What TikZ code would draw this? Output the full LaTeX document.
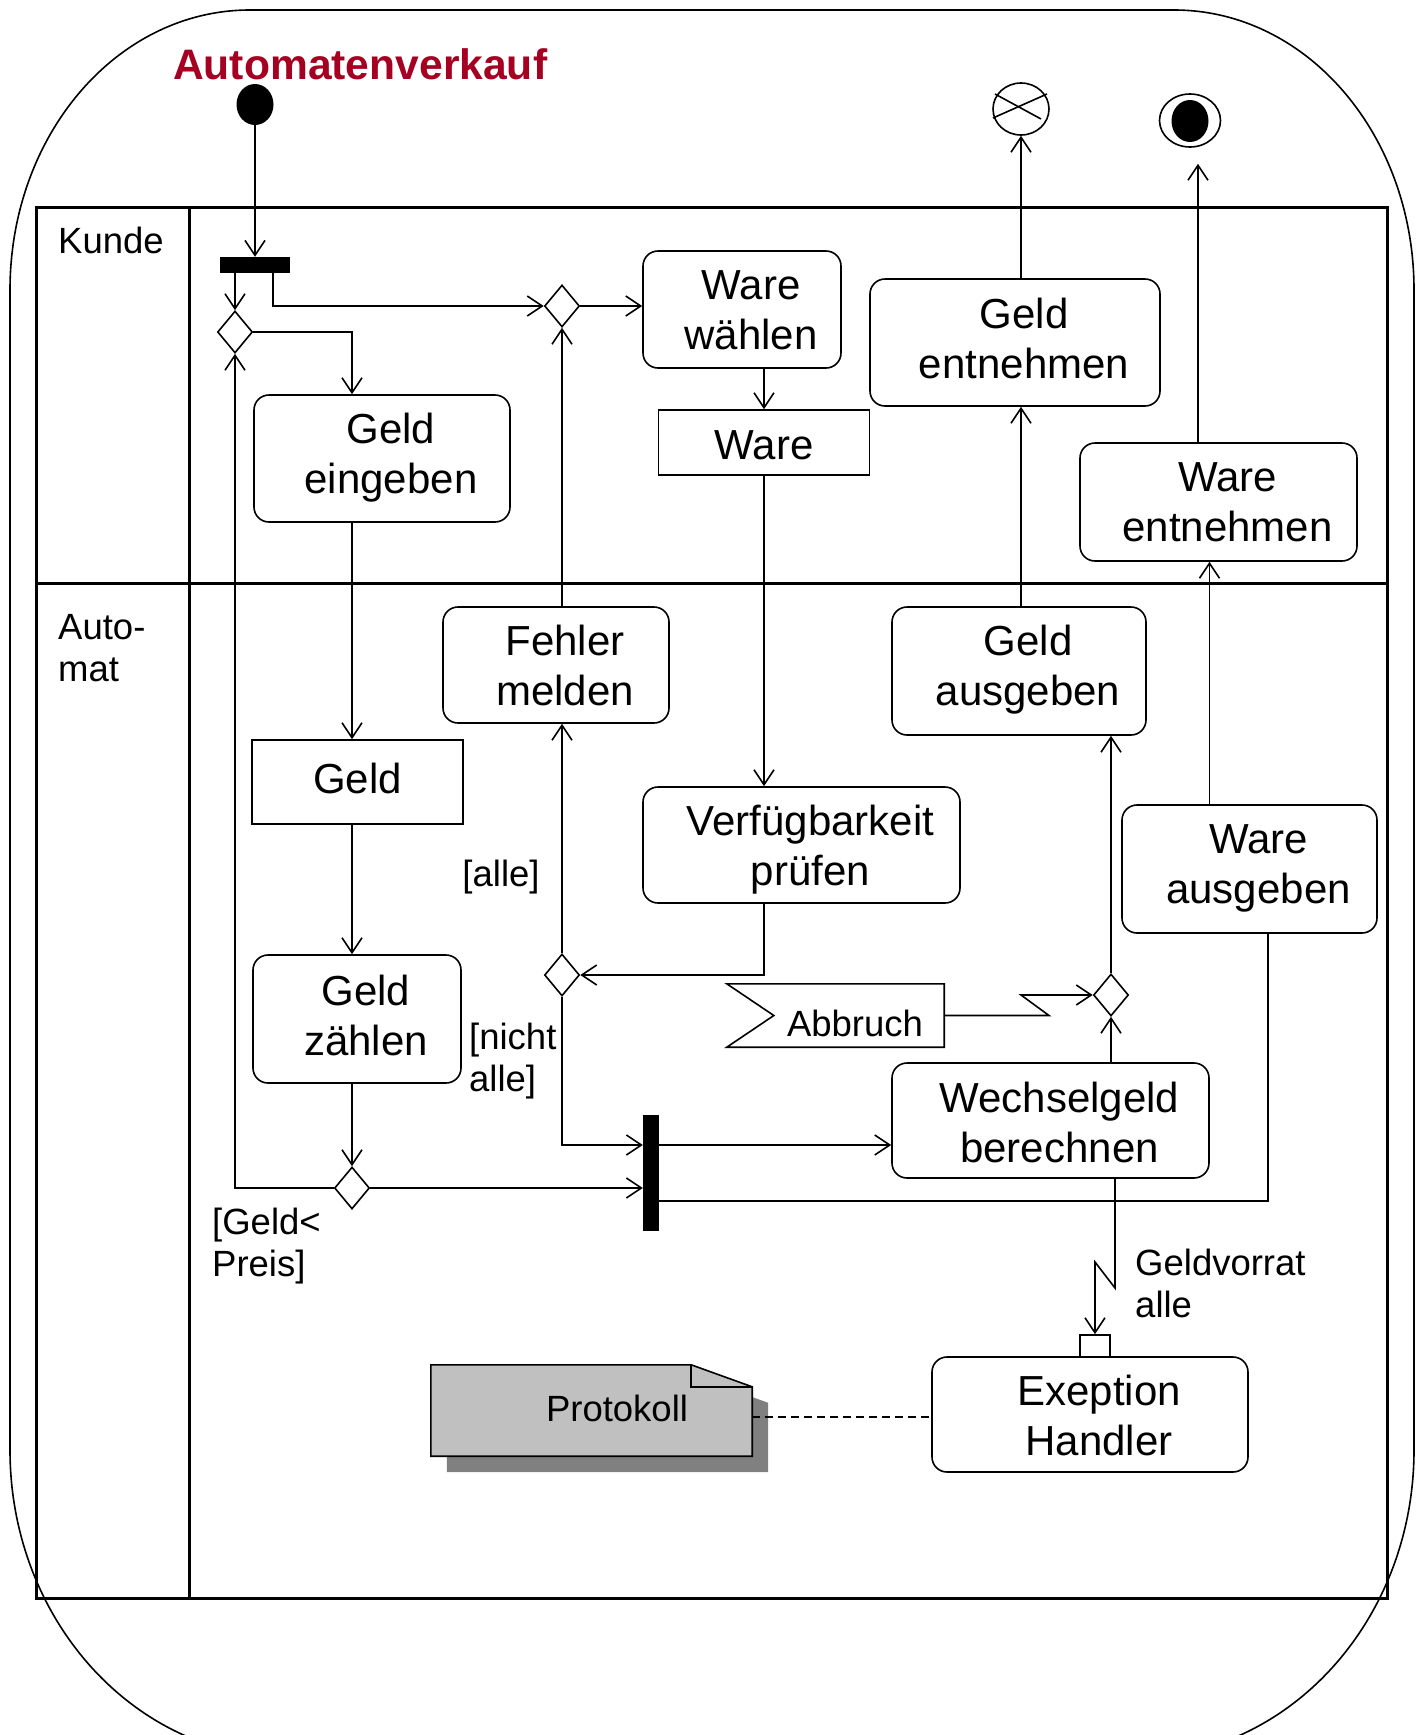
\documentclass[tikz,border=0pt]{standalone}
\usepackage{fontspec}
\setmainfont{Liberation Sans}
\usetikzlibrary{arrows.meta,shapes.geometric}

\definecolor{titlered}{RGB}{165,0,33}
\definecolor{notegray}{RGB}{192,192,192}
\definecolor{shadowgray}{RGB}{128,128,128}

\newcommand\myactfont{\fontsize{42}{50}\selectfont}
\newcommand\mylblfont{\fontsize{36.5}{42}\selectfont}
\newcommand\mytitlefont{\fontsize{42.6}{50}\selectfont\bfseries}

\begin{document}
\begin{tikzpicture}[x=1pt,y=-1pt,
  line/.style={line width=1.6pt},
  arr/.style={line width=1.6pt,-{Straight Barb[length=15pt,width=20pt]}},
  act/.style={draw,line width=1.6pt,rounded corners=15pt,inner sep=0pt},
  obj/.style={draw,line width=1.6pt,inner sep=0pt},
  acttxt/.style={font=\myactfont,align=center,inner sep=0pt,xshift=9pt},
  objtxt/.style={font=\myactfont,inner sep=0pt},
  dec/.style={draw,diamond,line width=1.6pt,inner sep=0pt,minimum width=35pt,minimum height=42pt},
  bar/.style={fill=black,inner sep=0pt},
  lbl/.style={font=\mylblfont,align=left,inner sep=0pt},
  lane/.style={line width=3pt}]
\useasboundingbox (0,0) rectangle (1424,1735);

% outer activity frame
\draw[line width=1.6pt] (10,290) .. controls (10,135) and (117,10) .. (250,10)
  -- (1174,10) .. controls (1307,10) and (1414,135) .. (1414,290)
  -- (1414,1450) .. controls (1414,1620) and (1289,1758) .. (1134,1758)
  -- (290,1758) .. controls (135,1758) and (10,1620) .. (10,1450) -- cycle;

\node[anchor=base west,font=\mytitlefont,text=titlered,inner sep=0pt] (title) at (173,79) {Automatenverkauf};

% swimlanes
\draw[lane] (36,207) rectangle (1387,1598);
\draw[lane] (189,207) -- (189,1598);
\draw[lane] (36,583) -- (1387,583);
\node[lbl,anchor=base west] (laneK) at (58,253) {Kunde};
\node[lbl,anchor=west] (laneA) at (58,648) {Auto-\\mat};

% start, fork, decisions
\node[ellipse,fill,minimum width=37pt,minimum height=41pt,inner sep=0pt] (init) at (255,104.5) {};
\node[bar,minimum width=70pt,minimum height=16pt] (fork1) at (255,265) {};
\node[dec] (dec1) at (235,332) {};
\node[dec] (dec2) at (562,306) {};
\node[dec] (dec3) at (562,975) {};
\node[dec] (dec4) at (352,1188) {};
\node[dec] (dec5) at (1111,995) {};
\node[bar,minimum width=16pt,minimum height=116pt] (join) at (651,1173) {};

% ends
\node[ellipse,draw,line width=1.6pt,minimum width=56pt,minimum height=52pt,inner sep=0pt] (ff) at (1021,109) {};
\draw[line] ([shift={(-26pt,15pt)}]ff.center) -- ([shift={(20pt,-10pt)}]ff.center);
\draw[line] ([shift={(-28pt,-9pt)}]ff.center) -- ([shift={(26pt,15pt)}]ff.center);
\node[ellipse,draw,line width=1.6pt,minimum width=61pt,minimum height=53pt,inner sep=0pt] (fin) at (1190,120.5) {};
\node[ellipse,fill,minimum width=37pt,minimum height=42pt,inner sep=0pt] (finDot) at (1190,121) {};

% actions
\node[act,minimum width=198pt,minimum height=117pt,label={[acttxt,yshift=-1pt]center:Ware\\wählen}] (wWahl) at (742,309.5) {};
\node[obj,minimum width=211pt,minimum height=65pt,label={[objtxt,yshift=-3pt]center:Ware}] (wareObj) at (764,442.5) {};
\node[act,minimum width=290pt,minimum height=127pt,label={[acttxt,yshift=4pt]center:Geld\\entnehmen}] (gEnt) at (1015,342.5) {};
\node[act,minimum width=277pt,minimum height=118pt,label={[acttxt]center:Ware\\entnehmen}] (wEnt) at (1218.5,502) {};
\node[act,minimum width=256pt,minimum height=127pt,label={[acttxt,yshift=1pt]center:Geld\\eingeben}] (geldEin) at (382,458.5) {};
\node[act,minimum width=226pt,minimum height=116pt,label={[acttxt]center:Fehler\\melden}] (fehler) at (556,665) {};
\node[act,minimum width=254pt,minimum height=128pt,label={[acttxt,yshift=1pt]center:Geld\\ausgeben}] (gAus) at (1019,671) {};
\node[obj,minimum width=211pt,minimum height=84pt,label={[objtxt,yshift=4pt]center:Geld}] (geldObj) at (357.5,782) {};
\node[act,minimum width=317pt,minimum height=116pt,label={[acttxt,yshift=-5pt]center:Verfügbarkeit\\prüfen}] (verf) at (801.5,845) {};
\node[act,minimum width=255pt,minimum height=128pt,label={[acttxt,yshift=1pt]center:Ware\\ausgeben}] (wAus) at (1249.5,869) {};
\node[act,minimum width=208pt,minimum height=128pt,label={[acttxt,yshift=4pt]center:Geld\\zählen}] (geldZ) at (357,1019) {};
\node[act,minimum width=317pt,minimum height=115pt,label={[acttxt,yshift=-2pt]center:Wechselgeld\\berechnen}] (wech) at (1050.5,1120.5) {};
\node[act,minimum width=316pt,minimum height=115pt,label={[acttxt,yshift=-1pt]center:Exeption\\Handler}] (exh) at (1090,1414.5) {};
\node[draw,line width=1.6pt,minimum width=30pt,minimum height=22pt,inner sep=0pt] (pin) at (1095,1346) {};

% signal "Abbruch"
\node[minimum width=217pt,minimum height=63pt,inner sep=0pt,
  label={[lbl,xshift=19.5pt,yshift=-8pt]center:Abbruch}] (abbr) at (835.5,1015.5) {};
\draw[line] (abbr.north west) -- (abbr.north east) -- (abbr.south east)
  -- (abbr.south west) -- ([xshift=47pt]abbr.west) -- cycle;

% note "Protokoll" with shadow
\node[minimum width=321pt,minimum height=91pt,inner sep=0pt] (prot) at (591.5,1410.5) {};
\fill[shadowgray] ([shift={(16pt,-16pt)}]prot.north west) -- ([shift={(-45pt,-16pt)}]prot.north east)
  -- ([shift={(16pt,-38pt)}]prot.north east) -- ([shift={(16pt,-16pt)}]prot.south east)
  -- ([shift={(16pt,-16pt)}]prot.south west) -- cycle;
\filldraw[fill=notegray,line width=1.6pt] (prot.north west) -- ([xshift=-61pt]prot.north east)
  -- ([yshift=-22pt]prot.north east) -- (prot.south east) -- (prot.south west) -- cycle;
\draw[line] ([xshift=-61pt]prot.north east) -- ([shift={(-61pt,-22pt)}]prot.north east)
  -- ([yshift=-22pt]prot.north east);
\node[lbl] (protText) at ([shift={(25.5pt,2pt)}]prot.center) {Protokoll};

% guard and event labels
\node[lbl] (gAlle) at (501,877) {[alle]};
\node[lbl,anchor=west] (gNicht) at (469,1061) {[nicht\\alle]};
\node[lbl,anchor=west] (gPreis) at (212,1246) {[Geld<\\Preis]};
\node[lbl,anchor=west] (gVorrat) at (1135,1283) {Geldvorrat\\alle};

% helper points
\coordinate (f1R) at ([xshift=-17pt]fork1.south east);
\coordinate (jA) at ([yshift=28pt]join.west);
\coordinate (jB) at ([yshift=-28pt]join.east);
\coordinate (wAusIn) at ([xshift=18.5pt]wAus.south);
\coordinate (wAusOut) at ([xshift=-40pt]wAus.north);
\coordinate (finIn) at ([shift={(8pt,-16pt)}]fin.south);
\coordinate (ab1) at (1049,1015.5);
\coordinate (ab2) at (1021,995);
\coordinate (ex1) at (1115,1288);
\coordinate (ex2) at (1095,1262);

% control flow
\draw[arr] (init) -- (fork1);
\draw[arr] (dec1 |- fork1.south) -- (dec1.north);
\draw[arr] (f1R) |- (dec2.west);
\draw[arr] (dec1.east) -| (dec4 |- geldEin.north);
\draw[arr] (dec4 |- geldEin.south) -- (dec4 |- geldObj.north);
\draw[arr] (dec4 |- geldObj.south) -- (dec4 |- geldZ.north);
\draw[arr] (dec4 |- geldZ.south) -- (dec4.north);
\draw[arr] (dec4.west) -| (dec1.south);
\draw[arr] (dec4.east) -- (dec4.east -| join.west);
\draw[arr] (dec2.east) -- (dec2.east -| wWahl.west);
\draw[arr] (wareObj.north |- wWahl.south) -- (wareObj.north);
\draw[arr] (wareObj.south) -- (wareObj.south |- verf.north);
\draw[arr] (wareObj.south |- verf.south) |- (dec3.east);
\draw[arr] (dec3.north) -- (dec3 |- fehler.south);
\draw[arr] (dec2 |- fehler.north) -- (dec2.south);
\draw[arr] (dec3.south) |- (jA);
\draw[arr] (join.east |- jA) -- (wech.west |- jA);
\draw[line] (jB) -| (wAusIn);
\draw[arr] (dec5 |- wech.north) -- (dec5.south);
\draw[arr] (abbr.east) -- (ab1) -- (ab2) -- (dec5.west);
\draw[arr] (dec5.north) -- (dec5 |- gAus.south);
\draw[arr] (ff |- gAus.north) -- (ff |- gEnt.south);
\draw[arr] (ff |- gEnt.north) -- (ff.south);
\draw[arr] (wAusOut) -- (wAusOut |- wEnt.south);
\draw[arr] (finIn |- wEnt.north) -- (finIn);
\draw[arr] (ex1 |- wech.south) -- (ex1) -- (ex2) -- (pin.north);
\draw[line,dash pattern=on 8pt off 5pt] ([yshift=-6.5pt]prot.east) -- ([yshift=-6.5pt]prot.east -| exh.west);
\end{tikzpicture}
\end{document}
